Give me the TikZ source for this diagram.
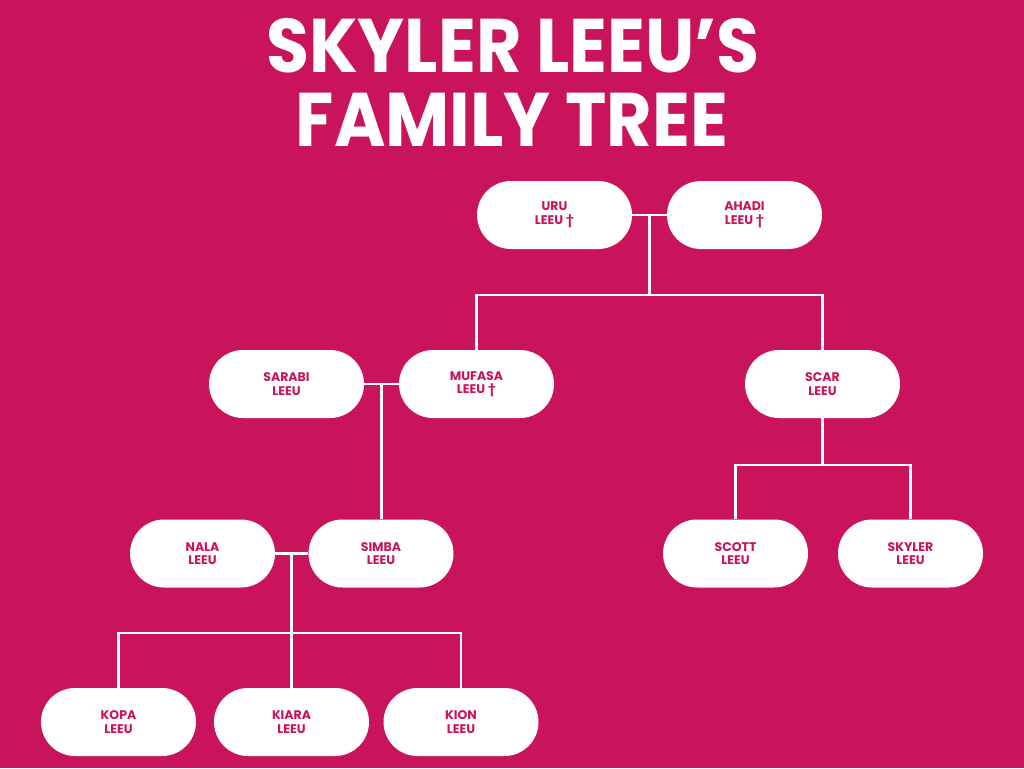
\documentclass[tikz,border=0pt]{standalone}
\usepackage{fontspec}
\setmainfont{Poppins}
\usetikzlibrary{calc}
\definecolor{bg}{RGB}{201,19,90}
\begin{document}
\begin{tikzpicture}[x=1pt,y=-1pt,
  pill/.style={fill=white, rounded corners=34pt, minimum width=155pt, minimum height=68pt,
    inner sep=0pt, align=center, font=\bfseries\fontsize{12.5}{13.5}\selectfont, text=bg},
  pillS/.style={pill, minimum width=145pt},
  link/.style={draw=white, line width=2.6pt, line join=miter},
  ttl/.style={font=\bfseries\fontsize{76}{76}\selectfont, text=white, inner sep=0pt, anchor=base}]
\fill[bg] (0,0) rectangle (1024,768);
\useasboundingbox (0,0) rectangle (1024,768);
% title
\node[ttl] (t1) at (513,72) {\scalebox{0.92}[1]{SKYLER LEEU’S}};
\node[ttl] (t2) at (512,146) {\scalebox{0.92}[1]{FAMILY TREE}};
% nodes
\node[pill] (uru) at (554.5,215) {URU\\LEEU †};
\node[pill] (ahadi) at (744.5,215) {AHADI\\LEEU †};
\node[pill] (sarabi) at (286.5,384) {SARABI\\LEEU};
\node[pill] (mufasa) at (476.5,384) {MUFASA\\LEEU †};
\node[pill] (scar) at (822.5,384) {SCAR\\LEEU};
\node[pillS] (nala) at (202.5,553.5) {NALA\\LEEU};
\node[pillS] (simba) at (381,553.5) {SIMBA\\LEEU};
\node[pillS] (scott) at (735.5,553.5) {SCOTT\\LEEU};
\node[pillS] (skyler) at (910.5,553.5) {SKYLER\\LEEU};
\node[pill] (kopa) at (118.5,722) {KOPA\\LEEU};
\node[pill] (kiara) at (291.5,722) {KIARA\\LEEU};
\node[pill] (kion) at (461,722) {KION\\LEEU};
% connectors
\coordinate (j1) at ($(uru.east)!0.5!(ahadi.west)$);
\coordinate (b1) at (650,295);
\draw[link] (uru.east) -- (ahadi.west);
\draw[link] (j1) -- (j1 |- b1);
\draw[link] (mufasa.north) -- (mufasa.north |- b1) -- (scar.north |- b1) -- (scar.north);
\coordinate (j2) at ($(sarabi.east)!0.5!(mufasa.west)$);
\draw[link] (sarabi.east) -- (mufasa.west);
\draw[link] (j2) -- (j2 |- simba.north);
\coordinate (b2) at (822.5,465);
\draw[link] (scar.south) -- (scar.south |- b2);
\draw[link] (scott.north) -- (scott.north |- b2) -- (skyler.north |- b2) -- (skyler.north);
\coordinate (j3) at ($(nala.east)!0.5!(simba.west)$);
\coordinate (b3) at (291.5,633);
\draw[link] (nala.east) -- (simba.west);
\draw[link] (j3) -- (j3 |- kiara.north);
\draw[link] (kopa.north) -- (kopa.north |- b3) -- (kion.north |- b3) -- (kion.north);
\end{tikzpicture}
\end{document}
